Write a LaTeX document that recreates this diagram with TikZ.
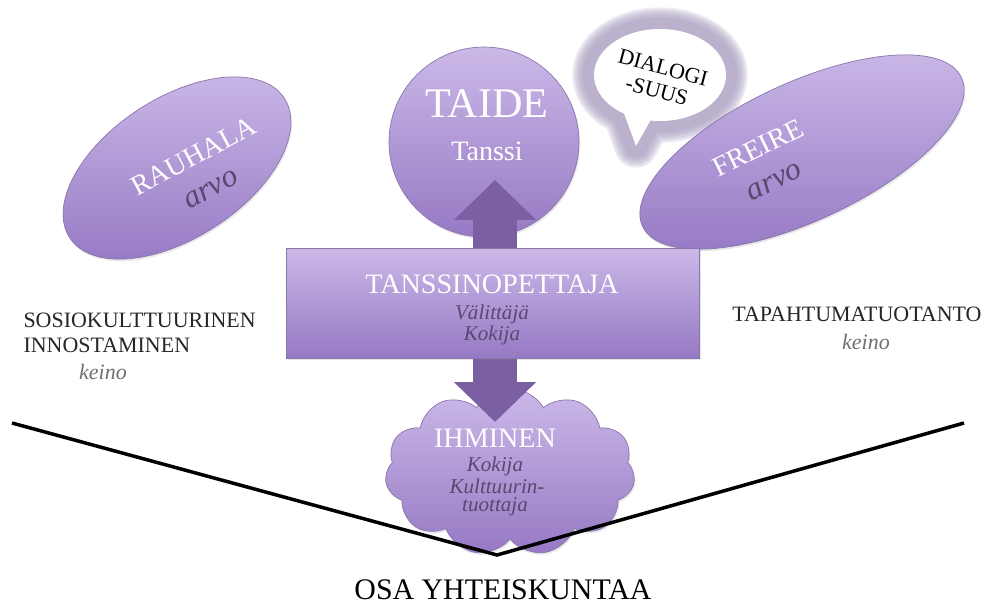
\documentclass[tikz,border=0pt]{standalone}
\usepackage{fontspec}
\setmainfont{Liberation Serif}
\usetikzlibrary{arrows.meta,shapes.geometric,shapes.symbols,shadows,positioning}

\definecolor{lilatop}{HTML}{CBB9E8}
\definecolor{lilabot}{HTML}{9679C4}
\definecolor{lilaedge}{HTML}{8A75AC}
\definecolor{lilaarrow}{HTML}{7A60A2}
\definecolor{lilatext}{HTML}{5A4870}
\definecolor{ringcol}{HTML}{A99DC0}
\definecolor{keinogrey}{HTML}{707070}

\begin{document}
\begin{tikzpicture}[x=0.02cm,y=-0.02cm,semithick]
  \tikzstyle{blob}=[draw=lilaedge,thin,top color=lilatop,bottom color=lilabot,
    drop shadow={opacity=0.18,shadow xshift=0.6pt,shadow yshift=-1.2pt}]
  \tikzstyle{head}=[text=white,inner sep=0pt]
  \tikzstyle{sub}=[text=lilatext,inner sep=0pt,font=\fontsize{12}{14}\selectfont\itshape]
  \tikzstyle{side}=[text=black!85,inner sep=0pt,font=\fontsize{12.5}{15}\selectfont]
  \tikzstyle{keino}=[text=keinogrey,inner sep=0pt,font=\fontsize{12.5}{15}\selectfont\itshape]
  \tikzstyle{updown}=[draw=lilaarrow,line width=0.88cm,
    {Triangle[width=1.6cm,length=0.8cm]}-{Triangle[width=1.6cm,length=0.8cm]}]

  \useasboundingbox[fill=white] (0,0) rectangle (988,613);

  % speech bubble
  \foreach \w in {0.86,0.76,0.66,0.56,0.46}
    \draw[ringcol,opacity=0.26,line width=\w cm,line join=round]
      (660,75) ellipse [x radius=66,y radius=46]
      (622,108) -- (636,146) -- (654,114);
  \fill[white] (660,75) ellipse [x radius=66,y radius=46];
  \fill[white] (622,108) -- (636,146) -- (654,114) -- cycle;
  \node[text=black,inner sep=0pt,rotate=-15,align=center,
    font=\fontsize{12.5}{13.5}\selectfont] (dialogi) at (660,79) {DIALOGI\\-SUUS};

  % shapes
  \node[blob,ellipse,rotate=33,minimum width=5.12cm,minimum height=2.8cm]
    (rauhala) at (177,168) {};
  \node[blob,ellipse,rotate=25,minimum width=7.04cm,minimum height=2.76cm]
    (freire) at (802,152) {};
  \node[blob,circle,minimum size=3.8cm] (taide) at (484,142) {};
  \node[blob,cloud,cloud puffs=11,cloud puff arc=120,cloud ignores aspect,
    minimum width=5.0cm,minimum height=3.35cm] (ihminen) at (510,472) {};

  \coordinate (uptip) at (495,180);
  \coordinate (downtip) at (495,422);
  \draw[updown] (downtip) -- (uptip);

  \node[blob,rectangle,minimum width=8.26cm,minimum height=2.2cm]
    (opettaja) at (493,303) {};

  % texts
  \node[head,rotate=28,align=center,font=\fontsize{16}{20.5}\selectfont] (rauhalat) at (202,172)
    {RAUHALA\\{\color{lilatext}\fontsize{18}{20.5}\selectfont\itshape arvo}};
  \node[head,rotate=26,align=center,font=\fontsize{16}{20.5}\selectfont] (freiret) at (766,164)
    {FREIRE\\{\color{lilatext}\fontsize{18}{20.5}\selectfont\itshape arvo}};

  \node[head,font=\fontsize{24}{26}\selectfont] (taidet) at (487,104) {TAIDE};
  \node[head,font=\fontsize{16}{18}\selectfont] (tanssi) at (487,151) {Tanssi};

  \node[head,font=\fontsize{16}{18}\selectfont] (opettajat) at (492,284) {TANSSINOPETTAJA};
  \node[sub] (valittaja) at (492,314) {Välittäjä};
  \node[sub] (kokija1) at (492,335) {Kokija};

  \node[head,font=\fontsize{16}{18}\selectfont] (ihminent) at (495,438) {IHMINEN};
  \node[sub] (kokija2) at (495,466) {Kokija};
  \node[sub] (kulttuurin) at (497,486) {Kulttuurin-};
  \node[sub] (tuottaja) at (495,507) {tuottaja};

  \node[side,anchor=west] (sosio) at (23,320) {SOSIOKULTTUURINEN};
  \node[side,anchor=west] (innost) at (23,345) {INNOSTAMINEN};
  \node[keino] (keinoL) at (103,372) {keino};

  \node[side] (tapahtuma) at (857,314) {TAPAHTUMATUOTANTO};
  \node[keino] (keinoR) at (866,342) {keino};

  % society
  \coordinate (vleft) at (12,423);
  \coordinate (vbottom) at (497,555);
  \coordinate (vright) at (964,423);
  \draw[black,line width=2pt] (vleft) -- (vbottom) -- (vright);
  \node[text=black,inner sep=0pt,font=\fontsize{17}{19}\selectfont] (osa) at (503,590) {OSA YHTEISKUNTAA};
\end{tikzpicture}
\end{document}
